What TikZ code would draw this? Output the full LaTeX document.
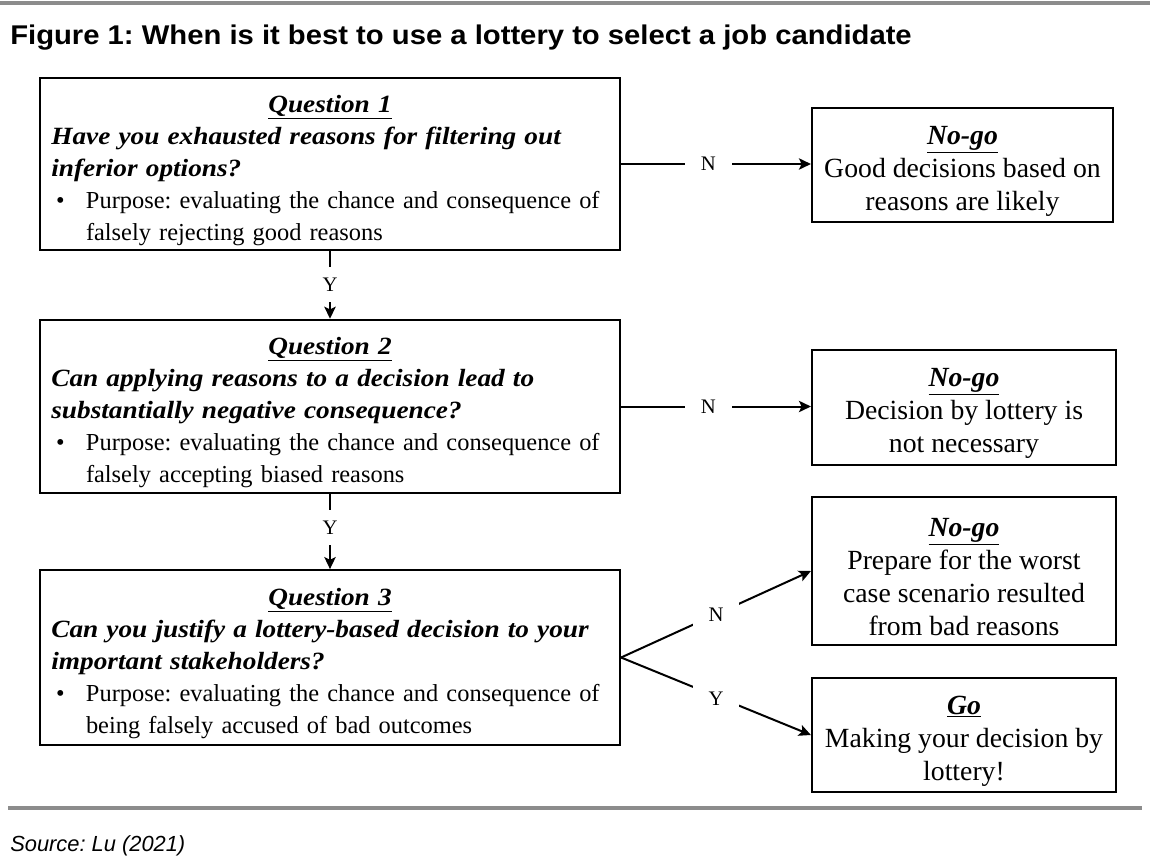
\documentclass[tikz,border=0pt]{standalone}
\usepackage{fontspec}
\setmainfont{Liberation Serif}
\newfontfamily\arialfont{Liberation Sans}
\newfontfamily\titlefont[FakeStretch=1.08]{Liberation Sans}
\newfontfamily\bifont[FakeStretch=1.1]{Liberation Serif}
\usetikzlibrary{arrows.meta}
\definecolor{rulegray}{HTML}{8C8C8C}
\tikzset{
  qbox/.style={draw, line width=1.6pt, text width=418pt, inner xsep=8.5pt, inner ysep=0pt, align=left,
    font=\fontsize{18.3pt}{24pt}\selectfont},
  rbox/.style={draw, line width=1.6pt, align=center, inner sep=0pt,
    font=\fontsize{20.8pt}{24.75pt}\selectfont},
  conn/.style={line width=1.5pt},
  arr/.style={conn, -{Stealth[length=9pt,width=8.5pt,inset=2pt]}},
  lbl/.style={fill=white, inner xsep=12pt, inner ysep=8pt, font=\fontsize{15.5pt}{15.5pt}\selectfont},
}
\newcommand{\bitext}[1]{{\bifont\bfseries\itshape #1}}
\newcommand{\qhead}[1]{\rule{0pt}{22pt}\makebox[\linewidth][c]{\underline{\fontsize{18.6pt}{24pt}\selectfont\bitext{#1}}}}
\newcommand{\qline}[1]{\mbox{#1}}
\newcommand{\qbul}{\hspace*{3.5pt}\makebox[22.5pt][l]{\textbullet}}
\newcommand{\qind}{\hspace*{26pt}}
\newcommand{\bibig}[1]{\mbox{\fontsize{18.6pt}{24pt}\selectfont\bitext{#1}}}
\newcommand{\rhead}[1]{\rule{0pt}{23pt}\underline{\textbf{\textit{#1}}}}
\begin{document}
\frenchspacing
\begin{tikzpicture}[x=0.75pt,y=-0.75pt]
\useasboundingbox (0,0) rectangle (1150,860);
\draw[rulegray, line width=3.6pt] (0,3) -- (1150,3);
\node[anchor=base west, inner sep=0pt, font=\titlefont\bfseries\fontsize{20.3pt}{22pt}\selectfont] (title) at (10,45) {\frenchspacing Figure 1: When is it best to use a lottery to select a job candidate};

\node[qbox, minimum height=129pt] (q1) at (330,164) {\qhead{Question 1}\\
\bibig{Have you exhausted reasons for filtering out}\\
\bibig{inferior options?}\\
\qline{\qbul Purpose: evaluating the chance and consequence of}\\
\qline{\qind falsely rejecting good reasons}};

\node[qbox, minimum height=130pt] (q2) at (330,406.5) {\qhead{Question 2}\\
\bibig{Can applying reasons to a decision lead to}\\
\bibig{substantially negative consequence?}\\
\qline{\qbul Purpose: evaluating the chance and consequence of}\\
\qline{\qind falsely accepting biased reasons}};

\node[qbox, minimum height=131pt] (q3) at (330,657.5) {\qhead{Question 3}\\
\bibig{Can you justify a lottery-based decision to your}\\
\bibig{important stakeholders?}\\
\qline{\qbul Purpose: evaluating the chance and consequence of}\\
\qline{\qind being falsely accused of bad outcomes}};

\node[rbox, minimum width=225.75pt, minimum height=85.5pt] (n1) at (962.5,165) {\rhead{No-go}\\Good decisions based on\\reasons are likely};
\node[rbox, minimum width=228pt, minimum height=86pt] (n2) at (964,407.5) {\rhead{No-go}\\Decision by lottery is\\not necessary};
\node[rbox, minimum width=228pt, minimum height=111pt] (n3) at (964,571) {\rhead{No-go}\\Prepare for the worst\\case scenario resulted\\from bad reasons};
\node[rbox, minimum width=228pt, minimum height=85.5pt] (go) at (964,735) {\rhead{Go}\\Making your decision by\\lottery!};

\draw[arr] (q1.east) -- node[lbl, pos=0.46] {N} (n1.west |- q1.east);
\draw[arr] (q2.east) -- node[lbl, pos=0.46] {N} (n2.west |- q2.east);
\draw[arr] (q1.south) -- node[lbl] {Y} (q2.north);
\draw[arr] (q2.south) -- node[lbl, pos=0.45] {Y} (q3.north);
\draw[arr] (q3.east) -- node[lbl] {N} (n3.west);
\draw[arr] (q3.east) -- node[lbl, pos=0.5, yshift=-2pt] {Y} (go.west);

\draw[rulegray, line width=2.4pt] (8,808) -- (1142,808);
\node[anchor=base west, inner sep=0pt, font=\arialfont\itshape\fontsize{16.4pt}{18pt}\selectfont] (src) at (10,851) {Source: Lu (2021)};
\end{tikzpicture}
\end{document}
